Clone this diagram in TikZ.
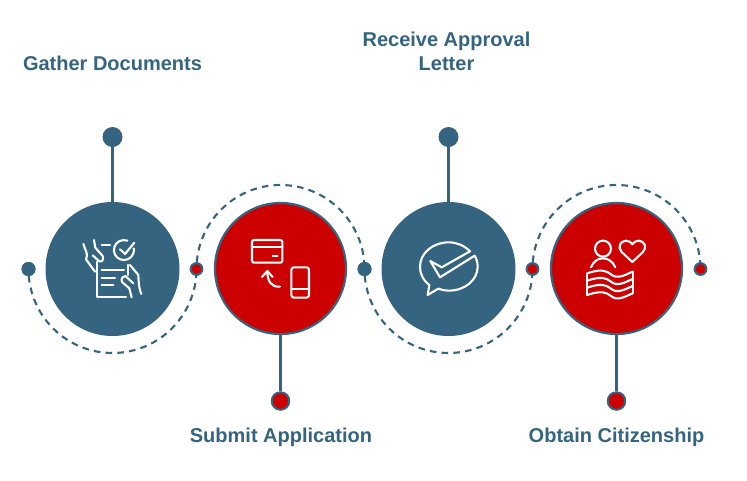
\documentclass[tikz,border=0pt]{standalone}
\usepackage{fontspec}
\setmainfont{Liberation Sans}
\definecolor{blu}{HTML}{34647F}
\definecolor{rd}{HTML}{CC0000}
\tikzset{
  big/.style={circle,inner sep=0pt,minimum size=134pt,fill=blu},
  bigred/.style={circle,inner sep=0pt,minimum size=131pt,fill=rd,draw=blu,line width=2.2pt},
  smalldot/.style={circle,inner sep=0pt,minimum size=14pt,fill=blu},
  smallred/.style={circle,inner sep=0pt,minimum size=11.5pt,fill=rd,draw=blu,line width=2pt},
  topdot/.style={circle,inner sep=0pt,minimum size=20pt,fill=blu},
  botdot/.style={circle,inner sep=0pt,minimum size=17.5pt,fill=rd,draw=blu,line width=2pt},
  stem/.style={draw=blu,line width=2.4pt},
  dasharc/.style={draw=blu,line width=2.1pt,dash pattern=on 6.6pt off 5.2pt,dash phase=-7pt},
  lab/.style={text=blu,font=\bfseries\fontsize{20}{24}\selectfont,align=center,inner sep=0pt},
  ico/.style={draw=white,line width=2.1pt,line cap=round,line join=round,fill=none},
}
\begin{document}
\begin{tikzpicture}[x=1pt,y=-1pt]
\useasboundingbox[fill=white] (0,0) rectangle (747,480);
% dashed arcs
\node[smalldot] (d1) at (28.5,269) {};
\node[smallred] (d2) at (196.5,269) {};
\node[smalldot] (d3) at (364.5,269) {};
\node[smallred] (d4) at (532.5,269) {};
\node[smallred] (d5) at (700.5,269) {};
\draw[dasharc] (d1.center) arc[start angle=180,end angle=0,radius=84];
\draw[dasharc] (d2.center) arc[start angle=180,end angle=360,radius=84];
\draw[dasharc] (d3.center) arc[start angle=180,end angle=0,radius=84];
\draw[dasharc] (d4.center) arc[start angle=180,end angle=360,radius=84];
% re-place dots on top
\node[smalldot] at (d1.center) {};
\node[smallred] at (d2.center) {};
\node[smalldot] at (d3.center) {};
\node[smallred] at (d4.center) {};
\node[smallred] at (d5.center) {};
% main circles
\node[big] (c1) at (112.5,269) {};
\node[bigred] (c2) at (280.5,268.5) {};
\node[big] (c3) at (448.5,269) {};
\node[bigred] (c4) at (616.5,268.5) {};
% stems and end dots
\node[topdot] (t1) at (112.5,137) {};
\node[topdot] (t3) at (448.5,137) {};
\node[botdot] (b2) at (280.5,401) {};
\node[botdot] (b4) at (616.5,401) {};
\draw[stem] (t1) -- (c1);
\draw[stem] (t3) -- (c3);
\draw[stem] (c2) -- (b2);
\draw[stem] (c4) -- (b4);
% labels
\node[lab] (l1) at (112.5,63.5) {Gather Documents};
\node[lab] (l3) at (446.5,51.5) {Receive Approval\\Letter};
\node[lab] (l2) at (281,437) {Submit Application};
\node[lab] (l4) at (616.5,437) {Obtain Citizenship};
% icon 1
\begin{scope}[shift={(20,180)},x=0.3333pt,y=-0.3333pt,ico]
\draw (190,192) .. controls (196,212) and (206,222) .. (198,238) -- (225,275);
\draw (222,180) -- (226,203) -- (248,228) .. controls (252,240) and (246,246) .. (238,244) -- (218,226);
\draw (245,195) -- (270,195);
\draw (343,188) -- (315,222) -- (300,208);
\draw (322,182) arc[start angle=-70,end angle=-370,radius=30];
\draw (231,246) -- (231,352) -- (318,352);
\draw (325,255) -- (325,285);
\draw (245,270) -- (312,270);
\draw (245,293) -- (285,293);
\draw (245,316) -- (280,316);
\draw (330,255) -- (355,285) .. controls (356,310) and (358,330) .. (364,342);
\draw (335,352) -- (328,325) -- (306,306) .. controls (302,296) and (308,288) .. (316,288) -- (340,310);
\end{scope}
% icon 2
\begin{scope}[shift={(190,180)},x=0.3333pt,y=-0.3333pt,ico]
\draw[rounded corners=2pt] (186,180) rectangle (277,248);
\draw (186,201) -- (277,201);
\draw (248,229) -- (263,229);
\draw (270,320) .. controls (245,322) and (232,305) .. (232,274);
\draw (216,291) -- (232,273) -- (248,291);
\draw[rounded corners=2.5pt] (304,262) rectangle (357,353);
\draw (304,328) -- (357,328);
\end{scope}
% icon 3
\begin{scope}[shift={(370,180)},x=0.3333pt,y=-0.3333pt,ico]
\draw (300,214) .. controls (282,196) and (260,187) .. (236,187)
  .. controls (188,187) and (150,220) .. (150,260)
  .. controls (150,282) and (160,302) .. (178,315)
  -- (173,345) -- (205,326)
  .. controls (215,330) and (225,332) .. (236,332)
  .. controls (285,332) and (323,300) .. (323,260)
  .. controls (323,248) and (320,237) .. (314,227)
  -- (210,292) -- (181,243) -- (215,262) -- cycle;
\end{scope}
% icon 4
\begin{scope}[shift={(530,180)},x=0.3333pt,y=-0.3333pt,ico]
\draw (219,206) circle[radius=24];
\draw (183,262) .. controls (190,244) and (204,235) .. (219,235) .. controls (234,235) and (248,244) .. (256,262);
\draw (307,246) -- (275,216) .. controls (262,202) and (270,183) .. (288,182) .. controls (297,182) and (303,187) .. (307,193) .. controls (311,187) and (317,182) .. (326,182) .. controls (344,183) and (352,202) .. (339,216) -- cycle;
\draw (172,280) -- (172,345);
\draw (308,275) -- (308,340);
\foreach \dy in {0,22,43,65}{
  \draw (172,{280+\dy}) .. controls (195,{272+\dy}) and (215,{268+\dy}) .. (232,{276+\dy})
     .. controls (248,{285+\dy}) and (250,{292+\dy}) .. (268,{290+\dy})
     .. controls (283,{288+\dy}) and (295,{280+\dy}) .. (308,{275+\dy});
}
\end{scope}
\end{tikzpicture}
\end{document}
